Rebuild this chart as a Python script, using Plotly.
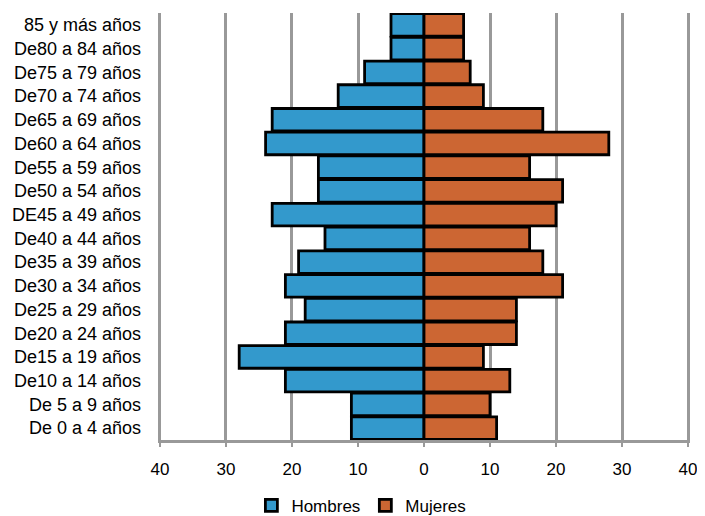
import plotly.graph_objects as go

categories = [
    "De 0 a 4 años", "De 5 a 9 años", "De10 a 14 años", "De15 a 19 años",
    "De20 a 24 años", "De25 a 29 años", "De30 a 34 años", "De35 a 39 años",
    "De40 a 44 años", "DE45 a 49 años", "De50 a 54 años", "De55 a 59 años",
    "De60 a 64 años", "De65 a 69 años", "De70 a 74 años", "De75 a 79 años",
    "De80 a 84 años", "85 y más años",
]
hombres = [11, 11, 21, 28, 21, 18, 21, 19, 15, 23, 16, 16, 24, 23, 13, 9, 5, 5]
mujeres = [11, 10, 13, 9, 14, 14, 21, 18, 16, 20, 21, 16, 28, 18, 9, 7, 6, 6]
tick_values = [-40, -30, -20, -10, 0, 10, 20, 30, 40]
tick_labels = ["40", "30", "20", "10", "0", "10", "20", "30", "40"]

FONT = "Liberation Sans, Arial, sans-serif"

fig = go.Figure()
fig.add_trace(go.Bar(
    y=categories, x=[-v for v in hombres], customdata=hombres,
    orientation="h", name="Hombres",
    marker=dict(color="#3399CC", line=dict(color="#000000", width=2.8)),
    hovertemplate="%{y}: %{customdata}<extra>Hombres</extra>",
))
fig.add_trace(go.Bar(
    y=categories, x=mujeres,
    orientation="h", name="Mujeres",
    marker=dict(color="#CC6633", line=dict(color="#000000", width=2.8)),
    hovertemplate="%{y}: %{x}<extra>Mujeres</extra>",
))

# page body adds an 8px offset, so the figure is sized to the visible area
fig.update_layout(
    width=697, height=508,
    margin=dict(l=150, r=15, t=5, b=76, autoexpand=False),
    paper_bgcolor="white", plot_bgcolor="white",
    barmode="overlay", bargap=0.05,
    font=dict(family=FONT, size=17, color="#000000"),
    showlegend=True,
    legend=dict(orientation="h", xref="container", yref="container",
                x=0.507, xanchor="center", y=0.02, yanchor="middle",
                font=dict(size=17, color="#000000"), itemwidth=30,
                traceorder="normal"),
)
fig.update_xaxes(
    range=[-40.3, 40.3], tickvals=tick_values, ticktext=tick_labels,
    showgrid=True, gridcolor="#999999", gridwidth=3,
    showline=True, linecolor="#999999", linewidth=3,
    ticks="outside", ticklen=4, tickwidth=2, tickcolor="#999999",
    zeroline=False, ticklabelstandoff=8, automargin=False,
    ticklabeloverflow="allow",
    tickfont=dict(size=17, color="#000000"),
)
fig.update_yaxes(
    categoryorder="array", categoryarray=categories,
    range=[-0.5, 17.5],
    showgrid=False, showline=False, zeroline=False, ticks="",
    ticklabelstandoff=16, automargin=False,
    tickfont=dict(size=18, color="#000000"),
)

fig.write_html("out.html")
